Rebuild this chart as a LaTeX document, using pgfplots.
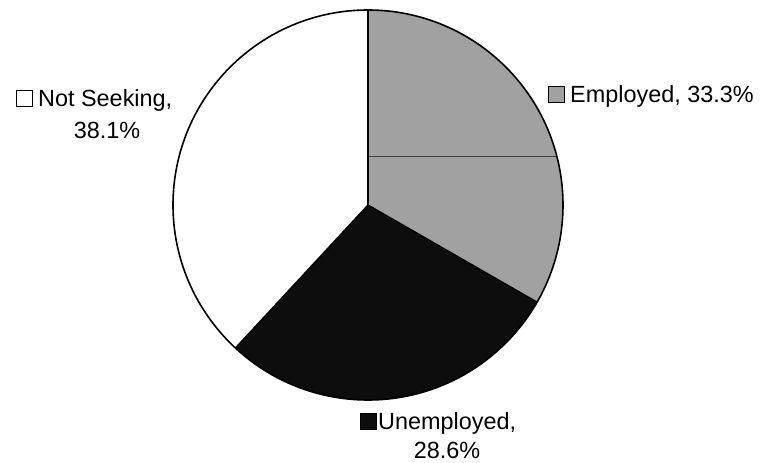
\documentclass[border=0pt]{standalone}
\usepackage{pgfplots}
\pgfplotsset{compat=1.18}
\usepackage{pgfplotstable}
\usepackage{fontspec}
\setmainfont{Liberation Sans}
\pgfplotstableread{
label value
Employed 33.3
Unemployed 28.6
NotSeeking 38.1
}\piedata
\definecolor{empgray}{gray}{0.63}
\definecolor{unemp}{gray}{0.05}
\begin{document}
\begin{tikzpicture}
\useasboundingbox (0,0) rectangle (775bp,463bp);
\pgfplotstablegetelem{0}{value}\of\piedata \let\vA\pgfplotsretval
\pgfplotstablegetelem{1}{value}\of\piedata \let\vB\pgfplotsretval
\pgfplotstablegetelem{2}{value}\of\piedata \let\vC\pgfplotsretval
\pgfmathsetmacro{\aA}{90-3.6*\vA}
\pgfmathsetmacro{\aB}{\aA-3.6*\vB}
\pgfmathsetmacro{\aC}{\aB-3.6*\vC}
\begin{axis}[x=1bp,y=1bp,xmin=0,xmax=775,ymin=0,ymax=463,hide axis,clip=false,
  at={(0,0)},anchor=origin]
\fill[empgray] (axis cs:368,258) -- ++(90:195bp) arc[start angle=90,end angle=\aA,radius=195bp] -- cycle;
\fill[unemp] (axis cs:368,258) -- ++(\aA:195bp) arc[start angle=\aA,end angle=\aB,radius=195bp] -- cycle;
\fill[white] (axis cs:368,258) -- ++(\aB:195bp) arc[start angle=\aB,end angle=\aC,radius=195bp] -- cycle;
\draw[black!75,line width=0.8bp] (axis cs:368,307) -- (axis cs:556,307);
\draw[black,line width=1.4bp] (axis cs:368,258) -- ++(90:195bp);
\draw[black,line width=1.4bp] (axis cs:368,258) -- ++(\aA:195bp);
\draw[black,line width=1.4bp] (axis cs:368,258) -- ++(\aB:195bp);
\draw[black,line width=1.6bp] (axis cs:368,258) circle[radius=195bp];
% labels
\filldraw[fill=white,draw=black,line width=1bp] (axis cs:16,356) rectangle (axis cs:32,372);
\node[anchor=base west,inner sep=0pt,font=\fontsize{23.5}{27}\selectfont] at (axis cs:38,356) {Not Seeking,};
\node[anchor=base,inner sep=0pt,font=\fontsize{23.5}{27}\selectfont] at (axis cs:107,324) {38.1\%};
\filldraw[fill=empgray,draw=black,line width=1bp] (axis cs:548,360) rectangle (axis cs:564,376);
\node[anchor=base west,inner sep=0pt,font=\fontsize{23.5}{27}\selectfont] at (axis cs:570,360) {Employed, 33.3\%};
\filldraw[fill=unemp,draw=black,line width=1bp] (axis cs:360,33) rectangle (axis cs:376,49);
\node[anchor=base west,inner sep=0pt,font=\fontsize{23.5}{27}\selectfont] at (axis cs:378,33) {Unemployed,};
\node[anchor=base,inner sep=0pt,font=\fontsize{23.5}{27}\selectfont] at (axis cs:447,4) {28.6\%};
\end{axis}
\end{tikzpicture}
\end{document}
